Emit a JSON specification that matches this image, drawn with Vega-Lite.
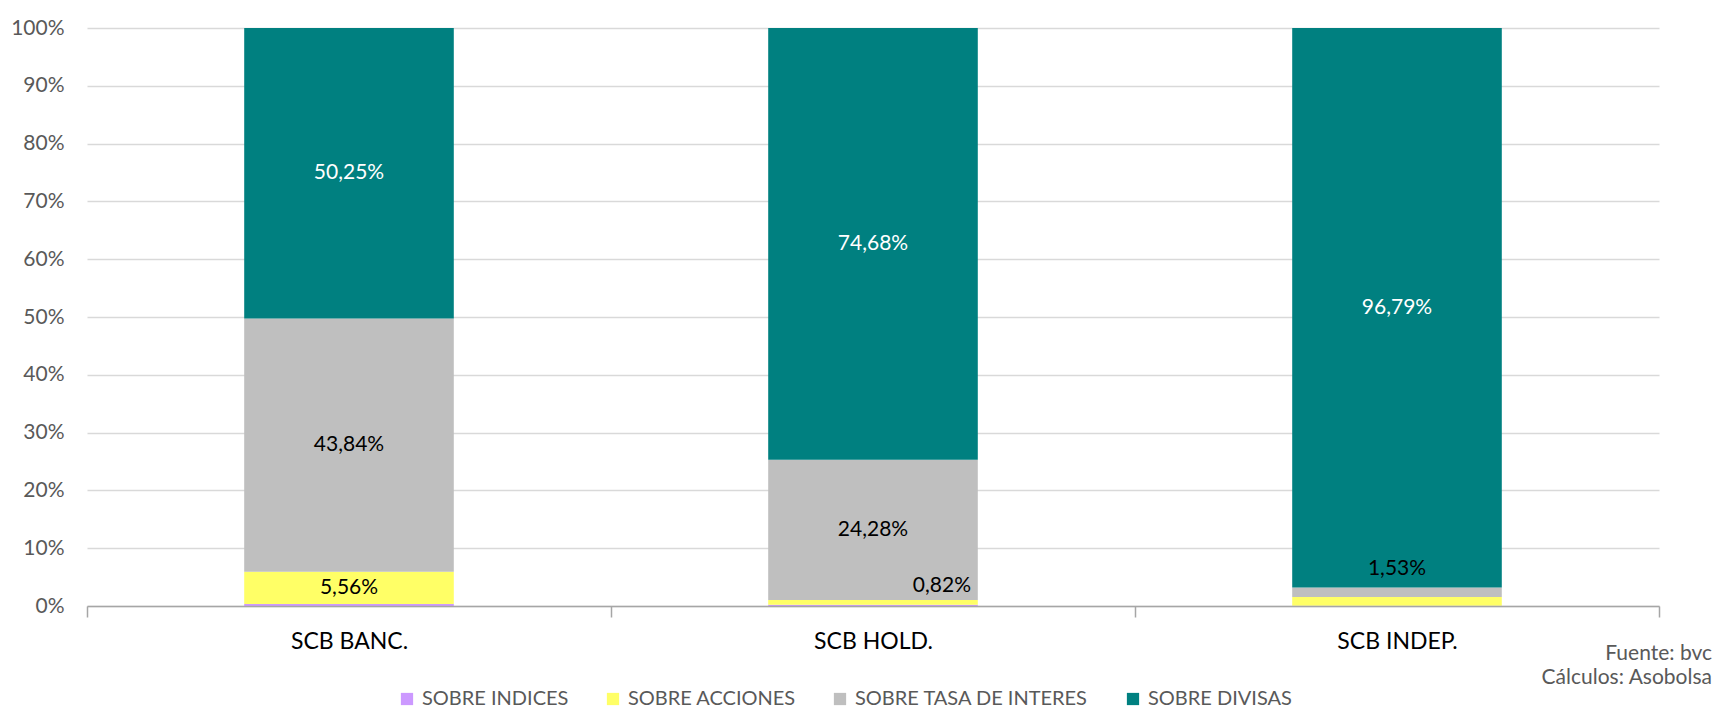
{
  "$schema": "https://vega.github.io/schema/vega-lite/v6.json",
  "width": 1572,
  "height": 578,
  "autosize": {"type": "none"},
  "padding": {"left": 87, "top": 28, "right": 57, "bottom": 104},
  "background": "white",
  "config": {
    "locale": {"number": {"decimal": ",", "thousands": ".", "grouping": [3], "currency": ["$", ""]}},
    "view": {"stroke": null},
    "font": "Lato"
  },
  "title": {
    "text": ["Fuente: bvc", "Cálculos: Asobolsa"],
    "orient": "bottom",
    "anchor": "end",
    "frame": "group",
    "align": "right",
    "font": "Lato",
    "fontSize": 21,
    "fontWeight": "normal",
    "color": "#595959",
    "lineHeight": 24,
    "dx": 53,
    "dy": -66,
    "offset": 0
  },
  "data": {
    "values": [
      {"categoria": "SCB BANC.", "tipo": "SOBRE INDICES", "valor": 0.0035},
      {"categoria": "SCB BANC.", "tipo": "SOBRE ACCIONES", "valor": 0.0556},
      {"categoria": "SCB BANC.", "tipo": "SOBRE TASA DE INTERES", "valor": 0.4384},
      {"categoria": "SCB BANC.", "tipo": "SOBRE DIVISAS", "valor": 0.5025},
      {"categoria": "SCB HOLD.", "tipo": "SOBRE INDICES", "valor": 0.0022},
      {"categoria": "SCB HOLD.", "tipo": "SOBRE ACCIONES", "valor": 0.0082},
      {"categoria": "SCB HOLD.", "tipo": "SOBRE TASA DE INTERES", "valor": 0.2428},
      {"categoria": "SCB HOLD.", "tipo": "SOBRE DIVISAS", "valor": 0.7468},
      {"categoria": "SCB INDEP.", "tipo": "SOBRE INDICES", "valor": 0.0003},
      {"categoria": "SCB INDEP.", "tipo": "SOBRE ACCIONES", "valor": 0.0153},
      {"categoria": "SCB INDEP.", "tipo": "SOBRE TASA DE INTERES", "valor": 0.0165},
      {"categoria": "SCB INDEP.", "tipo": "SOBRE DIVISAS", "valor": 0.9679}
    ]
  },
  "transform": [
    {"calculate": "indexof(['SOBRE INDICES','SOBRE ACCIONES','SOBRE TASA DE INTERES','SOBRE DIVISAS'], datum.tipo)", "as": "orden"},
    {"stack": "valor", "groupby": ["categoria"], "sort": [{"field": "orden", "order": "ascending"}], "offset": "normalize", "as": ["y0", "y1"]},
    {"calculate": "(datum.y0 + datum.y1) / 2", "as": "ymid"}
  ],
  "encoding": {
    "x": {
      "field": "categoria",
      "type": "nominal",
      "sort": ["SCB BANC.", "SCB HOLD.", "SCB INDEP."],
      "scale": {"paddingInner": 0, "paddingOuter": 0},
      "axis": {
        "title": null,
        "labelAngle": 0,
        "labelFont": "Lato",
        "labelFontSize": 23,
        "labelColor": "#000000",
        "tickBand": "extent",
        "tickSize": 11,
        "tickColor": "#a6a6a6",
        "tickWidth": 1.5,
        "domainColor": "#a6a6a6",
        "domainWidth": 1.5,
        "labelPadding": 13,
        "grid": false,
        "zindex": 1
      }
    }
  },
  "layer": [
    {
      "mark": {"type": "bar", "width": {"band": 0.4}},
      "encoding": {
        "y": {
          "field": "y0",
          "type": "quantitative",
          "scale": {"domain": [0, 1]},
          "axis": {
            "title": null,
            "format": ".0%",
            "values": [0, 0.1, 0.2, 0.3, 0.4, 0.5, 0.6, 0.7, 0.8, 0.9, 1],
            "grid": true,
            "gridColor": "#d9d9d9",
            "gridWidth": 1.5,
            "domain": false,
            "ticks": false,
            "tickSize": 0,
            "labelFont": "Lato",
            "labelFontSize": 21,
            "labelColor": "#595959",
            "labelPadding": 23,
            "labelOverlap": false
          }
        },
        "y2": {"field": "y1"},
        "color": {
          "field": "tipo",
          "type": "nominal",
          "scale": {
            "domain": ["SOBRE INDICES", "SOBRE ACCIONES", "SOBRE TASA DE INTERES", "SOBRE DIVISAS"],
            "range": ["#cc99ff", "#ffff66", "#bfbfbf", "#008080"]
          },
          "legend": {
            "orient": "none",
            "legendX": 310,
            "legendY": 661,
            "direction": "horizontal",
            "title": null,
            "symbolType": "square",
            "symbolSize": 150,
            "symbolStrokeWidth": 0,
            "labelFont": "Lato",
            "labelFontSize": 20,
            "labelColor": "#595959",
            "labelOffset": 5,
            "labelLimit": 500,
            "columnPadding": 34,
            "padding": 0
          }
        }
      }
    },
    {
      "transform": [{"filter": "datum.valor >= 0.05"}],
      "mark": {"type": "text", "fontSize": 21, "font": "Lato", "baseline": "middle", "align": "center"},
      "encoding": {
        "y": {"field": "ymid", "type": "quantitative"},
        "text": {"field": "valor", "type": "quantitative", "format": ".2%"},
        "color": {"condition": {"test": "datum.tipo === 'SOBRE DIVISAS'", "value": "#ffffff"}, "value": "#000000"}
      }
    },
    {
      "transform": [{"filter": "datum.tipo === 'SOBRE ACCIONES' && datum.categoria === 'SCB HOLD.'"}],
      "mark": {"type": "text", "fontSize": 21, "font": "Lato", "baseline": "middle", "align": "right", "dx": 98, "dy": -14, "color": "#000000"},
      "encoding": {
        "y": {"field": "y1", "type": "quantitative"},
        "text": {"field": "valor", "type": "quantitative", "format": ".2%"}
      }
    },
    {
      "transform": [{"filter": "datum.tipo === 'SOBRE ACCIONES' && datum.categoria === 'SCB INDEP.'"}],
      "mark": {"type": "text", "fontSize": 21, "font": "Lato", "baseline": "middle", "align": "center", "dy": -28, "color": "#000000"},
      "encoding": {
        "y": {"field": "y1", "type": "quantitative"},
        "text": {"field": "valor", "type": "quantitative", "format": ".2%"}
      }
    }
  ]
}
